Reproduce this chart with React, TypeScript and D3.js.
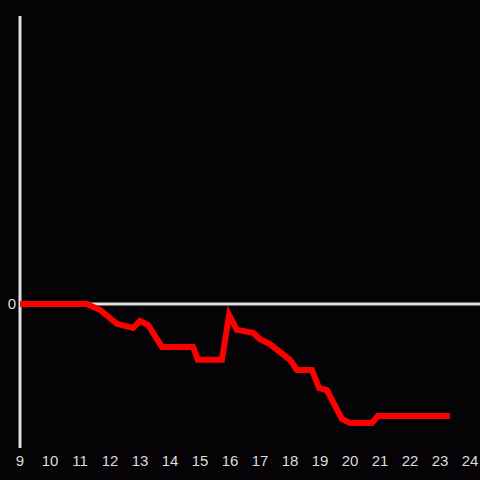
import React from "react";
import * as d3 from "d3";

const hours = [9.0, 11.23, 11.67, 12.23, 12.77, 13.0, 13.27, 13.73, 14.77, 14.93, 15.73, 15.97, 16.23, 16.77, 17.0, 17.33, 18.0, 18.23, 18.73, 18.97, 19.23, 19.73, 20.0, 20.73, 20.93, 23.33];
const values = [0, 0, -2.1, -6.9, -8.3, -5.9, -7.3, -14.9, -14.9, -19.4, -19.4, -3.8, -9.0, -10.0, -12.2, -13.9, -19.4, -22.9, -22.9, -29.2, -29.9, -39.9, -41.3, -41.3, -38.9, -38.9];
const xTicks = [9, 10, 11, 12, 13, 14, 15, 16, 17, 18, 19, 20, 21, 22, 23, 24];
const yTicks = [0];

export default function App() {
  const W = 480, H = 480;
  const x = d3.scaleLinear().domain([9, 24]).range([20, 470]);
  const y = d3.scaleLinear().domain([-50, 100]).range([448, 16]);
  const pts: [number, number][] = hours.map((h, i) => [h, values[i]]);
  const line = d3.line<[number, number]>().x(d => x(d[0])).y(d => y(d[1]));
  const font = "'Liberation Sans', Arial, sans-serif";
  return (
    <div style={{ position: "absolute", left: 0, top: 0 }}>
      <svg width={W} height={H} style={{ display: "block", background: "#050306" }}>
        <rect x={0} y={0} width={W} height={H} fill="#050306" />
        <line x1={x(9)} x2={W} y1={y(0)} y2={y(0)} stroke="#e0e0e0" strokeWidth={3} />
        <line x1={x(9)} x2={x(9)} y1={16} y2={448} stroke="#e0e0e0" strokeWidth={3} />
        {xTicks.map(t => (
          <text key={t} x={x(t)} y={466} fill="#dcdcdc" fontSize={15} fontFamily={font} textAnchor="middle">{t}</text>
        ))}
        {yTicks.map(t => (
          <text key={t} x={16} y={y(t) + 5} fill="#dcdcdc" fontSize={15} fontFamily={font} textAnchor="end">{t}</text>
        ))}
        <path d={line(pts) || ""} fill="none" stroke="#ff0000" strokeWidth={6} strokeLinejoin="miter" />
      </svg>
    </div>
  );
}
